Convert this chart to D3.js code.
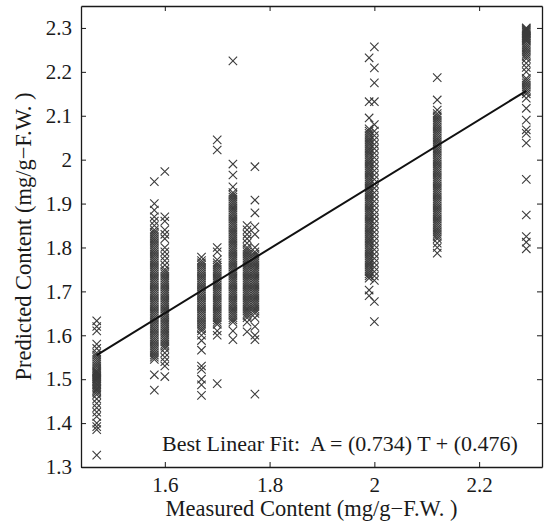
<!DOCTYPE html>
<html>

<head>
    <meta charset="utf-8">
    <style>
        body {
            margin: 0;
            background: white;
        }

        svg text {
            font-family: 'Liberation Serif', Tinos, 'Times New Roman', Times, 'DejaVu Serif', serif;
        }

        .axis .domain {
            stroke: #1a1a1a;
            stroke-width: 1.3px;
        }

        .axis .tick line {
            stroke: #1a1a1a;
            stroke-width: 1px;
        }

        .axis .tick text {
            font-family: 'Liberation Serif', Tinos, 'Times New Roman', Times, 'DejaVu Serif', serif;
            font-size: 21px;
            fill: #1a1a1a;
        }
    </style>
</head>

<body>
    <svg width="549" height="523"></svg>

    <script src="https://d3js.org/d3.v7.min.js"></script>

    <script>
        let measured = [1.47, 1.58, 1.60, 1.67, 1.70, 1.73, 1.757, 1.772, 1.99, 2.00, 2.12, 2.29]

        let colA = [1.633, 1.62, 1.61, 1.58, 1.57, 1.56, 1.555, 1.55, 1.545, 1.54, 1.535, 1.53, 1.525, 1.52, 1.517, 1.515, 1.512, 1.51, 1.507, 1.505, 1.502, 1.50, 1.497, 1.494, 1.49, 1.487, 1.484, 1.48, 1.477, 1.474, 1.47, 1.465, 1.455, 1.445, 1.435, 1.425, 1.415, 1.40, 1.392, 1.385, 1.327]
        let colB = [1.95, 1.90, 1.885, 1.87, 1.86, 1.85, 1.84, 1.835, 1.83, 1.825, 1.82, 1.815, 1.81, 1.805, 1.80, 1.795, 1.79, 1.785, 1.78, 1.775, 1.77, 1.765, 1.76, 1.755, 1.75, 1.745, 1.74, 1.735, 1.73, 1.725, 1.72, 1.715, 1.71, 1.705, 1.70, 1.695, 1.69, 1.685, 1.68, 1.675, 1.67, 1.665, 1.66, 1.655, 1.65, 1.645, 1.64, 1.635, 1.63, 1.625, 1.62, 1.615, 1.61, 1.605, 1.60, 1.595, 1.59, 1.585, 1.58, 1.575, 1.57, 1.565, 1.56, 1.555, 1.55, 1.545, 1.51, 1.475]
        let colC = [1.973, 1.87, 1.86, 1.84, 1.83, 1.82, 1.80, 1.79, 1.78, 1.77, 1.76, 1.75, 1.745, 1.74, 1.735, 1.73, 1.725, 1.72, 1.715, 1.71, 1.705, 1.70, 1.695, 1.69, 1.685, 1.68, 1.675, 1.67, 1.665, 1.66, 1.655, 1.65, 1.645, 1.64, 1.635, 1.63, 1.625, 1.62, 1.615, 1.61, 1.605, 1.60, 1.595, 1.59, 1.585, 1.58, 1.575, 1.57, 1.56, 1.55, 1.54, 1.53, 1.506]
        let colD = [1.778, 1.77, 1.765, 1.76, 1.755, 1.75, 1.745, 1.74, 1.735, 1.73, 1.725, 1.72, 1.715, 1.71, 1.705, 1.70, 1.695, 1.69, 1.685, 1.68, 1.675, 1.67, 1.665, 1.66, 1.655, 1.65, 1.645, 1.64, 1.635, 1.63, 1.625, 1.62, 1.615, 1.61, 1.60, 1.588, 1.566, 1.53, 1.522, 1.50, 1.487, 1.463]
        let colE = [2.045, 2.022, 1.80, 1.79, 1.772, 1.765, 1.76, 1.755, 1.75, 1.745, 1.74, 1.735, 1.73, 1.725, 1.72, 1.715, 1.71, 1.705, 1.70, 1.695, 1.69, 1.685, 1.68, 1.675, 1.67, 1.665, 1.66, 1.655, 1.65, 1.645, 1.64, 1.635, 1.63, 1.625, 1.61, 1.60, 1.49]
        let colF = [2.225, 1.99, 1.965, 1.938, 1.925, 1.92, 1.915, 1.91, 1.905, 1.90, 1.895, 1.89, 1.885, 1.88, 1.875, 1.87, 1.865, 1.86, 1.855, 1.85, 1.845, 1.84, 1.835, 1.83, 1.825, 1.82, 1.815, 1.81, 1.805, 1.80, 1.795, 1.79, 1.785, 1.78, 1.775, 1.77, 1.765, 1.76, 1.755, 1.75, 1.745, 1.74, 1.735, 1.73, 1.725, 1.72, 1.715, 1.71, 1.705, 1.70, 1.695, 1.69, 1.685, 1.68, 1.675, 1.67, 1.665, 1.66, 1.655, 1.65, 1.645, 1.64, 1.635, 1.63, 1.61, 1.59]
        let colG1 = [1.85, 1.84, 1.83, 1.82, 1.81, 1.80, 1.795, 1.79, 1.785, 1.78, 1.775, 1.77, 1.765, 1.76, 1.755, 1.75, 1.745, 1.74, 1.735, 1.73, 1.725, 1.72, 1.715, 1.71, 1.705, 1.70, 1.695, 1.69, 1.685, 1.68, 1.675, 1.67, 1.665, 1.66, 1.655, 1.65, 1.645, 1.64, 1.63, 1.608]
        let colG2 = [1.984, 1.908, 1.879, 1.847, 1.83, 1.80, 1.79, 1.785, 1.78, 1.775, 1.77, 1.765, 1.76, 1.755, 1.75, 1.745, 1.74, 1.735, 1.73, 1.725, 1.72, 1.715, 1.71, 1.705, 1.70, 1.695, 1.69, 1.685, 1.68, 1.675, 1.67, 1.665, 1.66, 1.655, 1.65, 1.64, 1.62, 1.60, 1.59, 1.466]
        let colH1 = [2.232, 2.132, 2.095, 2.07, 2.065, 2.06, 2.055, 2.05, 2.045, 2.04, 2.035, 2.03, 2.025, 2.02, 2.015, 2.01, 2.005, 2.00, 1.995, 1.99, 1.985, 1.98, 1.975, 1.97, 1.965, 1.96, 1.955, 1.95, 1.945, 1.94, 1.935, 1.93, 1.925, 1.92, 1.915, 1.91, 1.905, 1.90, 1.895, 1.89, 1.885, 1.88, 1.875, 1.87, 1.865, 1.86, 1.855, 1.85, 1.845, 1.84, 1.835, 1.83, 1.825, 1.82, 1.815, 1.81, 1.805, 1.80, 1.795, 1.79, 1.785, 1.78, 1.775, 1.77, 1.765, 1.76, 1.755, 1.75, 1.745, 1.74, 1.735, 1.73, 1.703, 1.69]
        let colH2 = [2.257, 2.209, 2.175, 2.132, 2.08, 2.065, 2.055, 2.045, 2.035, 2.025, 2.015, 2.005, 1.995, 1.985, 1.975, 1.965, 1.955, 1.945, 1.935, 1.925, 1.915, 1.905, 1.895, 1.885, 1.875, 1.865, 1.855, 1.845, 1.835, 1.825, 1.815, 1.805, 1.795, 1.785, 1.775, 1.765, 1.755, 1.745, 1.735, 1.725, 1.677, 1.631]
        let colI = [2.187, 2.136, 2.113, 2.105, 2.10, 2.095, 2.09, 2.085, 2.08, 2.075, 2.07, 2.065, 2.06, 2.055, 2.05, 2.045, 2.04, 2.035, 2.03, 2.025, 2.02, 2.015, 2.01, 2.005, 2.00, 1.995, 1.99, 1.985, 1.98, 1.975, 1.97, 1.965, 1.96, 1.955, 1.95, 1.945, 1.94, 1.935, 1.93, 1.925, 1.92, 1.915, 1.91, 1.905, 1.90, 1.895, 1.89, 1.885, 1.88, 1.875, 1.87, 1.865, 1.86, 1.855, 1.85, 1.845, 1.84, 1.835, 1.83, 1.825, 1.82, 1.81, 1.80, 1.787]
        let colJ = [2.30, 2.298, 2.296, 2.294, 2.292, 2.29, 2.287, 2.285, 2.282, 2.28, 2.277, 2.275, 2.272, 2.27, 2.265, 2.26, 2.255, 2.25, 2.245, 2.24, 2.235, 2.23, 2.22, 2.21, 2.20, 2.185, 2.18, 2.175, 2.17, 2.165, 2.16, 2.155, 2.15, 2.14, 2.117, 2.09, 2.068, 2.06, 2.038, 1.955, 1.874, 1.825, 1.812, 1.797]

        let predicted = [colA, colB, colC, colD, colE, colF, colG1, colG2, colH1, colH2, colI, colJ]

        // best linear fit: A = slope * T + intercept
        let slope = 0.734
        let intercept = 0.476

        let xTicks = [1.6, 1.8, 2, 2.2]
        let yTicks = [1.3, 1.4, 1.5, 1.6, 1.7, 1.8, 1.9, 2, 2.1, 2.2, 2.3]

        let xLabel = "Measured Content (mg/g\u2212F.W. )"
        let yLabel = "Predicted Content (mg/g\u2212F.W. )"
        let fitLabel = "Best Linear Fit:  A = (0.734) T + (0.476)"

        let svg = d3.select("svg")

        let margin = { top: 6, right: 7, bottom: 56, left: 81 }
        let width = 549
        let height = 523

        let x = d3.scaleLinear()
            .domain([1.44, 2.32])
            .range([margin.left, width - margin.right])

        let y = d3.scaleLinear()
            .domain([1.3, 2.35])
            .range([height - margin.bottom, margin.top])

        // flatten the columns into points
        let points = []
        predicted.forEach(function (col, i) {
            col.forEach(function (v) {
                points.push({ t: measured[i], a: v })
            })
        })

        // X markers
        let s = 4.2
        svg.append("g")
            .selectAll("path")
            .data(points)
            .join("path")
            .attr("transform", d => `translate(${x(d.t)},${y(d.a)})`)
            .attr("d", `M${-s},${-s}L${s},${s}M${-s},${s}L${s},${-s}`)
            .style("fill", "none")
            .style("stroke", "#3c3c3c")
            .style("stroke-width", "1.1px")

        // fit line across the measured range
        let fitLine = d3.line()
            .x(d => x(d))
            .y(d => y(slope * d + intercept))

        svg.append("path")
            .attr("d", fitLine(d3.extent(measured)))
            .style("fill", "none")
            .style("stroke", "#111")
            .style("stroke-width", "2px")

        // axes, ticks pointing inward on all four sides
        svg.append("g")
            .attr("class", "axis")
            .attr("transform", `translate(0,${y.range()[0]})`)
            .call(d3.axisBottom(x).tickValues(xTicks).tickSizeInner(-5).tickSizeOuter(0).tickPadding(10).tickFormat(d3.format("")))

        svg.append("g")
            .attr("class", "axis")
            .attr("transform", `translate(0,${y.range()[1]})`)
            .call(d3.axisTop(x).tickValues(xTicks).tickSizeInner(-5).tickSizeOuter(0).tickFormat(""))

        svg.append("g")
            .attr("class", "axis")
            .attr("transform", `translate(${x.range()[0]},0)`)
            .call(d3.axisLeft(y).tickValues(yTicks).tickSizeInner(-5).tickSizeOuter(0).tickPadding(9).tickFormat(d3.format("")))

        svg.append("g")
            .attr("class", "axis")
            .attr("transform", `translate(${x.range()[1]},0)`)
            .call(d3.axisRight(y).tickValues(yTicks).tickSizeInner(-5).tickSizeOuter(0).tickFormat(""))

        // labels
        svg.append("text")
            .attr("x", (x.range()[0] + x.range()[1]) / 2)
            .attr("y", 516)
            .attr("text-anchor", "middle")
            .style("font-size", "22.5px")
            .style("fill", "#1a1a1a")
            .text(xLabel)

        svg.append("text")
            .attr("transform", `translate(31,${(y.range()[0] + y.range()[1]) / 2}) rotate(-90)`)
            .attr("text-anchor", "middle")
            .style("font-size", "22.5px")
            .style("fill", "#1a1a1a")
            .text(yLabel)

        svg.append("text")
            .attr("x", 162)
            .attr("y", 451)
            .style("font-size", "22px")
            .style("fill", "#1a1a1a")
            .style("white-space", "pre")
            .text(fitLabel)
    </script>
</body>

</html>
